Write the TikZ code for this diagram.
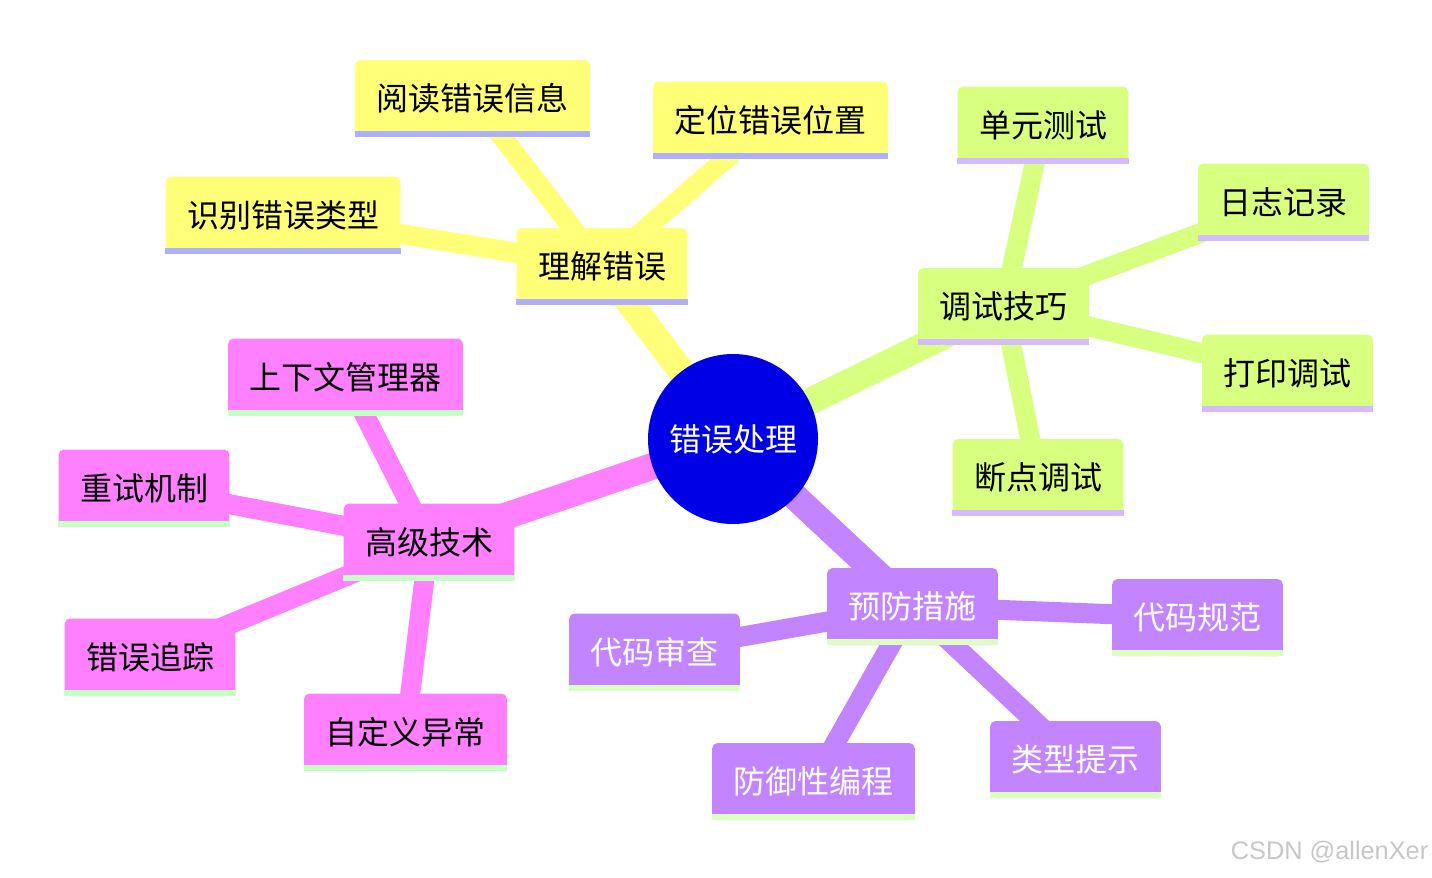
\documentclass[tikz,border=0pt]{standalone}
\usepackage{fontspec}
\setmainfont{Noto Sans CJK SC}
\newfontfamily\markfont{Liberation Sans}
\usetikzlibrary{backgrounds}
\definecolor{rootblue}{HTML}{0000E6}
\definecolor{yelfill}{HTML}{FFFF78}
\definecolor{yelbar}{HTML}{AFAFFF}
\definecolor{grnfill}{HTML}{D9FF80}
\definecolor{grnbar}{HTML}{D4BAFF}
\definecolor{pnkfill}{HTML}{FF80FF}
\definecolor{pnkbar}{HTML}{C6FFC6}
\definecolor{purfill}{HTML}{C285FF}
\definecolor{purbar}{HTML}{DCFFC0}
\tikzset{
  topic/.style={fill=#1,rounded corners=4pt,minimum height=57.75pt,inner xsep=16pt,inner ysep=0pt,font=\fontsize{24}{28}\selectfont},
  trunk/.style={draw=#1,line width=20pt},
  twig/.style={draw=#1,line width=15pt}
}

\begin{document}
\begin{tikzpicture}[x=0.75pt,y=-0.75pt]
\useasboundingbox (0,0) rectangle (1432,878);
\node[circle,fill=rootblue,minimum size=127.5pt,inner sep=0pt,text=white,font=\fontsize{24}{28}\selectfont] (root) at (733,439) {错误处理};
% understanding errors
\node[topic=yelfill] (und) at (602,266.5) {理解错误};
\node[topic=yelfill] (read) at (472.5,98.5) {阅读错误信息};
\node[topic=yelfill] (locate) at (770.5,120) {定位错误位置};
\node[topic=yelfill] (ident) at (283,215) {识别错误类型};
% debugging
\node[topic=grnfill] (debug) at (1003.5,306.5) {调试技巧};
\node[topic=grnfill] (unit) at (1043,125) {单元测试};
\node[topic=grnfill] (log) at (1283.5,202) {日志记录};
\node[topic=grnfill] (print) at (1287.5,373) {打印调试};
\node[topic=grnfill] (brk) at (1038,477.5) {断点调试};
% advanced
\node[topic=pnkfill] (adv) at (429,542) {高级技术};
\node[topic=pnkfill] (ctx) at (345.5,377) {上下文管理器};
\node[topic=pnkfill] (retry) at (144,488) {重试机制};
\node[topic=pnkfill] (trace) at (150,657) {错误追踪};
\node[topic=pnkfill] (custom) at (405.5,732) {自定义异常};
% prevention
\node[topic=purfill,text=white] (prev) at (912.5,606.5) {预防措施};
\node[topic=purfill,text=white] (review) at (654.5,652) {代码审查};
\node[topic=purfill,text=white] (style) at (1197.5,617.5) {代码规范};
\node[topic=purfill,text=white] (hint) at (1075.5,759.5) {类型提示};
\node[topic=purfill,text=white] (defend) at (813.5,781.5) {防御性编程};
\foreach \n/\c in {und/yelbar,read/yelbar,locate/yelbar,ident/yelbar,debug/grnbar,unit/grnbar,log/grnbar,print/grnbar,brk/grnbar,adv/pnkbar,ctx/pnkbar,retry/pnkbar,trace/pnkbar,custom/pnkbar,prev/purbar,review/purbar,style/purbar,hint/purbar,defend/purbar}{\fill[\c] ([yshift=4.5pt]\n.south west) rectangle (\n.south east);}
\begin{scope}[on background layer]
\draw[trunk=yelfill] (root.center)--(und.center);
\draw[trunk=grnfill] (root.center)--(debug.center);
\draw[trunk=pnkfill] (root.center)--(adv.center);
\draw[trunk=purfill] (root.center)--(prev.center);
\foreach \a/\b/\c in {und/read/yelfill,und/locate/yelfill,und/ident/yelfill,debug/unit/grnfill,debug/log/grnfill,debug/print/grnfill,debug/brk/grnfill,adv/ctx/pnkfill,adv/retry/pnkfill,adv/trace/pnkfill,adv/custom/pnkfill,prev/review/purfill,prev/style/purfill,prev/hint/purfill,prev/defend/purfill}{\draw[twig=\c] (\a.center)--(\b.center);}
\end{scope}
\node[anchor=east,text=black!22,font=\markfont\fontsize{19}{22}\selectfont] (mark) at (1433,852) {CSDN @allenXer};
\end{tikzpicture}
\end{document}
